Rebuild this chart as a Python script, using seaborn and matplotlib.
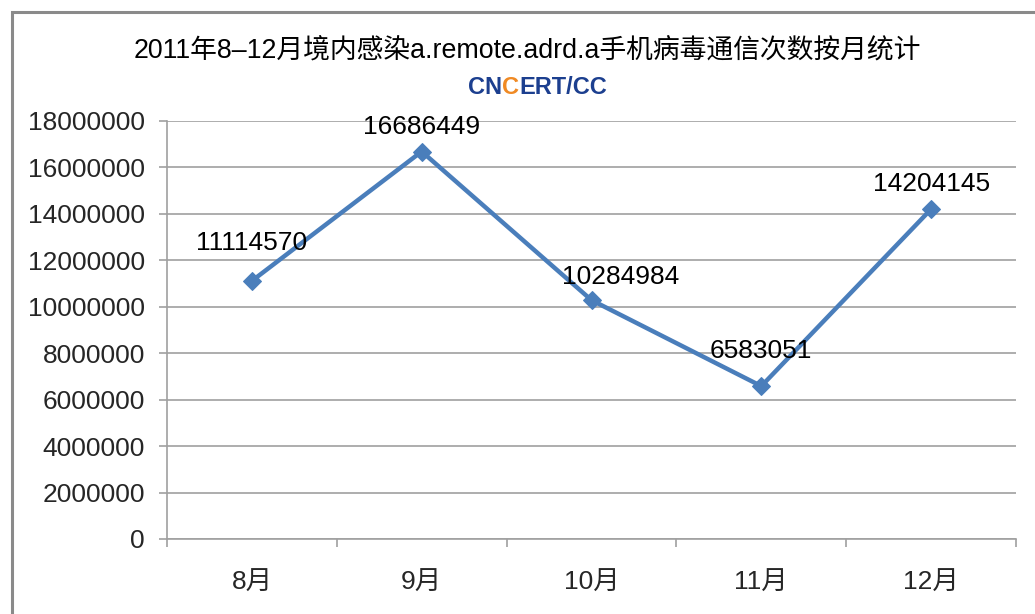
import matplotlib
matplotlib.use("Agg")
import matplotlib.pyplot as plt
import seaborn as sns
import pandas as pd
from matplotlib.patches import Rectangle
from matplotlib.ticker import FixedLocator

months = ["8月", "9月", "10月", "11月", "12月"]
counts = [11114570, 16686449, 10284984, 6583051, 14204145]
yticks = list(range(0, 18000001, 2000000))
title = "2011年8–12月境内感染a.remote.adrd.a手机病毒通信次数按月统计"

sns.set_theme(style="white")
plt.rcParams['font.family'] = ['Liberation Sans', 'Noto Sans CJK SC', 'DejaVu Sans']

df = pd.DataFrame({"pos": range(len(months)), "count": counts})

fig = plt.figure(figsize=(10.35, 6.14), dpi=100)
ax = fig.add_axes([167/1035, 1-539/614, (1016-167)/1035, (539-121)/614])

sns.lineplot(data=df, x="pos", y="count", ax=ax, color="#4a7ebb", linewidth=3.2,
             marker="D", markersize=9, markeredgecolor="#4a7ebb")

fs = 19
ax.set_xlim(-0.5, len(months) - 0.5)
ax.set_ylim(0, 18000000)
ax.set_yticks(yticks)
ax.set_yticklabels([str(v) for v in yticks], fontsize=fs)
ax.set_xticks(range(len(months)))
ax.set_xticklabels(months, fontsize=fs)
ax.xaxis.set_minor_locator(FixedLocator([i - 0.5 for i in range(len(months) + 1)]))
ax.tick_params(axis="x", which="major", length=0, pad=23)
ax.tick_params(axis="x", which="minor", length=6, width=1.2, color="#a0a0a0", direction="out", bottom=True)
ax.tick_params(axis="y", which="major", length=6, width=1.2, color="#a0a0a0", direction="out", left=True, pad=10)
ax.set_xlabel("")
ax.set_ylabel("")
ax.grid(axis="y", color="#a0a0a0", linewidth=1.2)
ax.set_axisbelow(True)
for s in ["top", "right"]:
    ax.spines[s].set_visible(False)
for s in ["left", "bottom"]:
    ax.spines[s].set_color("#a0a0a0")
    ax.spines[s].set_linewidth(1.2)

offsets = [(0, 27), (0, 18), (21, 17), (0, 25), (0, 18)]
for i, (v, off) in enumerate(zip(counts, offsets)):
    ax.annotate(str(v), (i, v), xytext=off, textcoords="offset points",
                ha="center", va="center", fontsize=fs, color="black")

fig.text(527/1035, 1-52/614, title, ha="center", va="center", fontsize=19.3, color="black")

navy = "#1c3f8f"
t1 = fig.text(468/1035, 1-87/614, "CN", ha="left", va="center", fontsize=17, fontweight="bold", color=navy)
t2 = ax.annotate("C", xy=(1, 0.5), xycoords=t1, ha="left", va="center", fontsize=17,
                 fontweight="bold", color="#f08a24", annotation_clip=False)
t3 = ax.annotate("ERT/CC", xy=(1, 0.5), xycoords=t2, ha="left", va="center", fontsize=17,
                 fontweight="bold", color=navy, annotation_clip=False)

fig.patches.append(Rectangle((12/1035, -0.1), 1.2, 1 - 12/614 + 0.1, transform=fig.transFigure,
                             fill=False, edgecolor="#8a8a8a", linewidth=2.2))

fig.savefig("out.png", dpi=100, facecolor="white")
